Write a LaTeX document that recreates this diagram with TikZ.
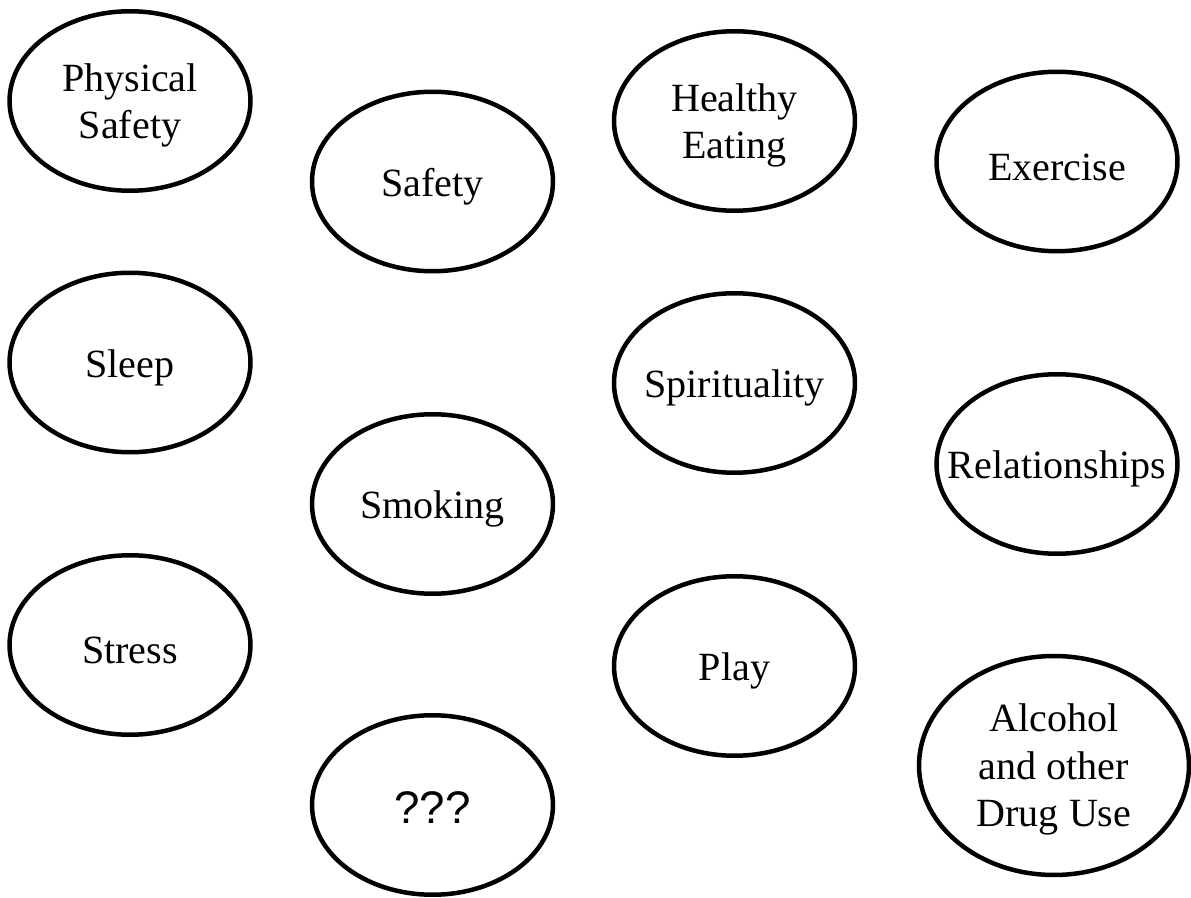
\documentclass[tikz,border=0pt]{standalone}
\usepackage{fontspec}
\setmainfont{Liberation Serif}
\newfontfamily\qfont{Liberation Sans}
\usetikzlibrary{shapes.geometric}

\begin{document}
\begin{tikzpicture}[x=0.02cm, y=0.02cm]
		\tikzstyle{every node}+=[inner xsep=-0.6cm, inner ysep=0pt]
		\tikzstyle{bubble}=[draw=black, ellipse, line width=0.09cm, minimum width=4.82cm, minimum height=3.59cm, align=center, text height=0.76cm, font=\fontsize{22.8pt}{27pt}\selectfont]
		\tikzstyle{stack}=[text height=, text depth=0pt]
		\useasboundingbox (0,0) rectangle (1191,-898);
		\node [bubble, stack] (physical) at (130,-101) {Physical\\Safety};
		\node [bubble] (sleep) at (130,-362.5) {Sleep};
		\node [bubble] (stress) at (130,-645) {Stress};
		\node [bubble] (safety) at (432.5,-181.5) {Safety};
		\node [bubble] (smoking) at (432.5,-504) {Smoking};
		\node [bubble, font=\qfont\fontsize{26pt}{31pt}\selectfont] (unknown) at (432.5,-805) {???};
		\node [bubble, stack] (healthy) at (734.5,-121) {Healthy\\Eating};
		\node [bubble] (spirit) at (734.5,-383) {Spirituality};
		\node [bubble] (play) at (734.5,-666) {Play};
		\node [bubble] (exercise) at (1057,-161.5) {Exercise};
		\node [bubble] (relations) at (1057,-464) {Relationships};
		\node [bubble, stack, minimum width=5.4cm, minimum height=4.38cm] (alcohol) at (1054,-765.5) {Alcohol\\and other\\Drug Use};
\end{tikzpicture}
\end{document}
